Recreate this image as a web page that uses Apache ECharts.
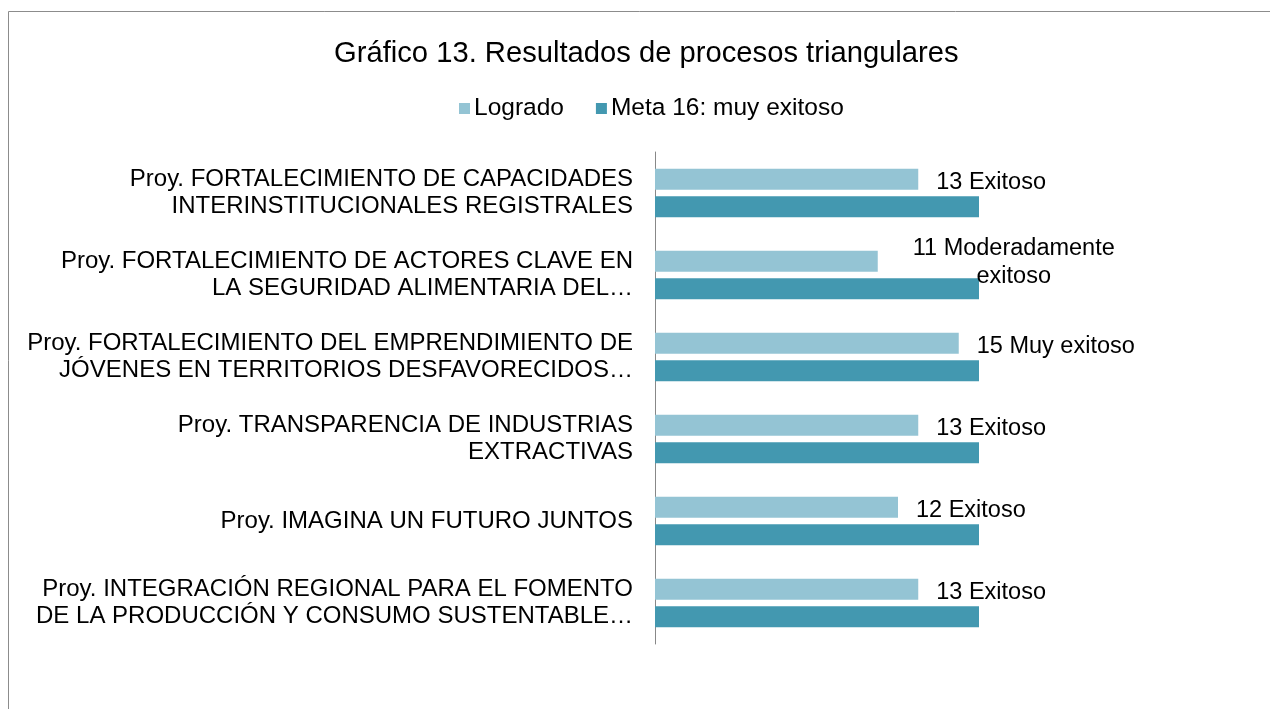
<!DOCTYPE html>
<html>
<head>
<meta charset="utf-8">
<script src="https://cdn.jsdelivr.net/npm/echarts@6/dist/echarts.min.js"></script>
<style>
  html, body { margin: 0; padding: 0; background: #fff; }
  #chart { width: 1270px; height: 709px; }
</style>
</head>
<body>
<div id="chart"></div>
<script>
// categories (top to bottom)
var proyectos = [
  'Proy. FORTALECIMIENTO DE CAPACIDADES\nINTERINSTITUCIONALES REGISTRALES',
  'Proy. FORTALECIMIENTO DE ACTORES CLAVE EN\nLA SEGURIDAD ALIMENTARIA DEL…',
  'Proy. FORTALECIMIENTO DEL EMPRENDIMIENTO DE\nJÓVENES EN TERRITORIOS DESFAVORECIDOS…',
  'Proy. TRANSPARENCIA DE INDUSTRIAS\nEXTRACTIVAS',
  'Proy. IMAGINA UN FUTURO JUNTOS',
  'Proy. INTEGRACIÓN REGIONAL PARA EL FOMENTO\nDE LA PRODUCCIÓN Y CONSUMO SUSTENTABLE…'
]
var logrado = [13, 11, 15, 13, 12, 13]
var meta = [16, 16, 16, 16, 16, 16]
var calificacion = ['Exitoso', 'Moderadamente\nexitoso', 'Muy exitoso', 'Exitoso', 'Exitoso', 'Exitoso']

var chart = echarts.init(document.getElementById('chart'))

var fontFam = '"Liberation Sans", Arial, sans-serif'

var logradoData = logrado.map(function (v, i) {
  var item = { value: v }
  // wrapped label is centred in Excel
  if (calificacion[i].indexOf('\n') >= 0) {
    item.label = { align: 'center', distance: 136, offset: [0, 1] }
  }
  return item
})

chart.setOption({
  animation: false,
  textStyle: { fontFamily: fontFam },
  graphic: [{
    type: 'rect',
    shape: { x: 8.5, y: 11.5, width: 1400, height: 900 },
    style: { fill: 'none', stroke: '#8c8c8c', lineWidth: 1 },
    silent: true
  }],
  title: {
    text: 'Gráfico 13. Resultados de procesos triangulares',
    left: 329,
    top: 34,
    textStyle: { fontFamily: fontFam, fontSize: 29.2, fontWeight: 'normal', color: '#000' }
  },
  legend: {
    top: 91,
    left: 454,
    itemWidth: 11,
    itemHeight: 11,
    itemGap: 32,
    icon: 'rect',
    textStyle: { fontFamily: fontFam, fontSize: 24.5, color: '#000', padding: [0, 0, 0, -1] },
    data: ['Logrado', 'Meta 16: muy exitoso']
  },
  grid: {
    left: 655,
    right: 210,
    top: 152,
    bottom: 65,
    containLabel: false
  },
  xAxis: {
    type: 'value',
    min: 0,
    max: 20,
    show: false
  },
  yAxis: {
    type: 'category',
    inverse: true,
    data: proyectos,
    axisLine: { show: true, lineStyle: { color: '#888', width: 1 } },
    axisTick: { show: false },
    axisLabel: {
      margin: 22,
      fontFamily: fontFam,
      fontSize: 24,
      lineHeight: 27,
      color: '#000',
      align: 'right'
    }
  },
  series: [
    {
      name: 'Logrado',
      type: 'bar',
      data: logradoData,
      barWidth: 21,
      barGap: '30%',
      itemStyle: { color: '#94c4d4' },
      label: {
        show: true,
        position: 'right',
        distance: 18,
        offset: [0, 3],
        fontFamily: fontFam,
        fontSize: 23.5,
        lineHeight: 28,
        color: '#000',
        formatter: function (p) {
          return p.value + ' ' + calificacion[p.dataIndex]
        }
      }
    },
    {
      name: 'Meta 16: muy exitoso',
      type: 'bar',
      data: meta,
      barWidth: 21,
      itemStyle: { color: '#4398b0' }
    }
  ]
})
</script>
</body>
</html>
